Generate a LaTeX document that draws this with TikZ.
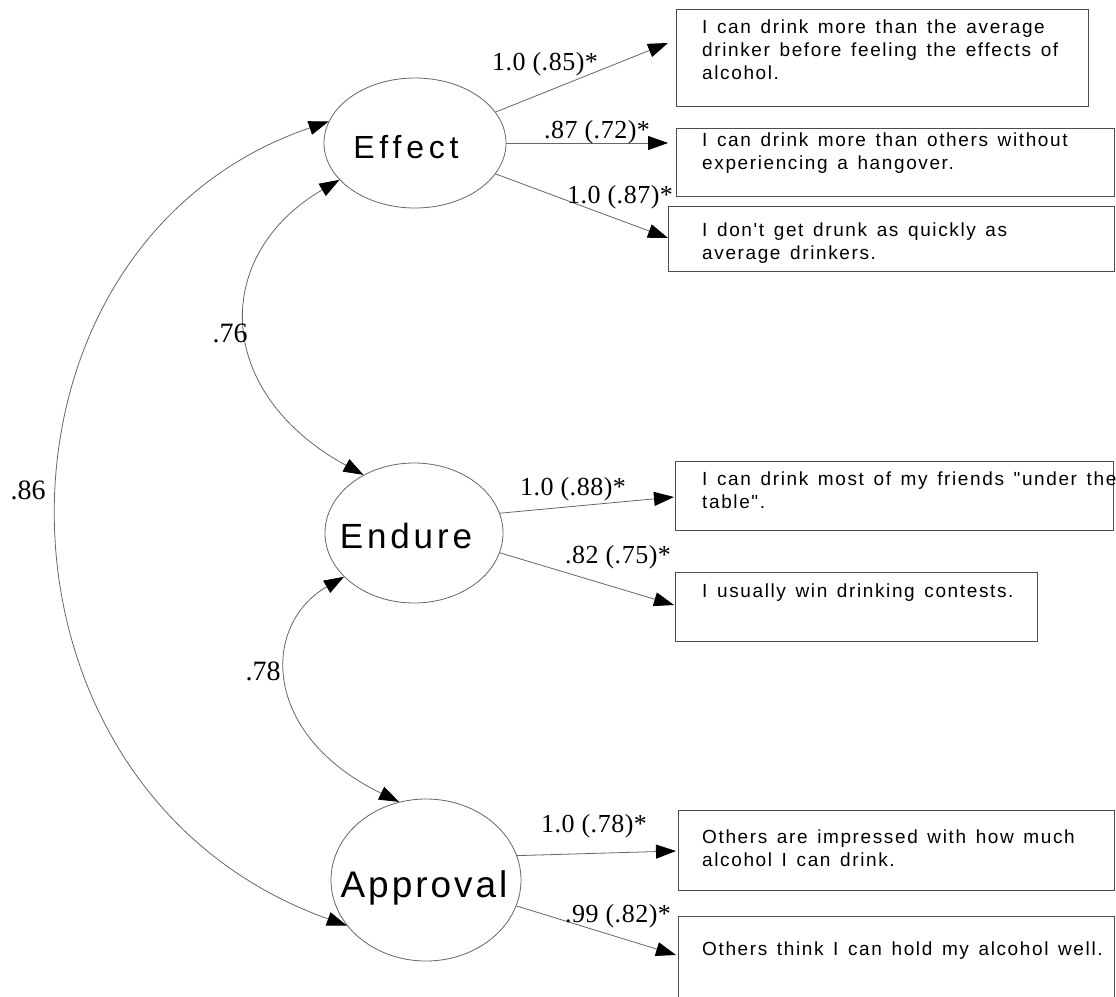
\documentclass[tikz,border=0pt]{standalone}
\usepackage{fontspec}
\setmainfont{Liberation Serif}
\newfontfamily\boxfont[LetterSpace=8.5,WordSpace=1.4]{Liberation Sans}
\newfontfamily\effectfont[LetterSpace=15]{Liberation Sans}
\newfontfamily\endurefont[LetterSpace=11]{Liberation Sans}
\newfontfamily\approvalfont[LetterSpace=8]{Liberation Sans}
\newfontfamily\coeffont[LetterSpace=2]{Liberation Serif}
\usetikzlibrary{arrows.meta,shapes.geometric}
\newcommand{\itemlines}[1]{\begin{tabular}[t]{@{}l@{}}#1\end{tabular}}
\tikzset{
  lat/.style={ellipse, draw=black!60, line width=0.8pt, inner sep=0pt},
  lattxt/.style={inner sep=0pt, anchor=base},
  itembox/.style={rectangle, draw=black!70, line width=0.9pt, inner sep=0pt, anchor=north west},
  itemtxt/.style={anchor=base west, inner sep=0pt, font=\boxfont\fontsize{19}{23}\selectfont},
  coef/.style={anchor=base, inner sep=0pt, font=\coeffont\fontsize{26}{28}\selectfont},
  covlab/.style={anchor=base, inner sep=0pt, font=\fontsize{28}{30}\selectfont},
  load/.style={draw=black!60, line width=0.8pt, -{Triangle[length=20pt,width=14pt,color=black]}},
  covarc/.style={draw=black!60, line width=0.8pt, {Triangle[length=20pt,width=14pt,color=black]}-{Triangle[length=20pt,width=14pt,color=black]}},
}
\begin{document}
\begin{tikzpicture}[x=1pt,y=-1pt]
\fill[white] (0,0) rectangle (1116,996);
\clip (0,0) rectangle (1116,996);

% latent variables
\node[lat, minimum width=182pt, minimum height=130pt] (effect) at (415,143) {};
\node[lat, minimum width=178pt, minimum height=140pt] (endure) at (414,533) {};
\node[lat, minimum width=190pt, minimum height=162pt] (approval) at (426,880) {};
\node[lattxt, font=\effectfont\fontsize{32}{36}\selectfont] (effecttxt) at (406,158) {Effect};
\node[lattxt, font=\endurefont\fontsize{35}{40}\selectfont] (enduretxt) at (406,548) {Endure};
\node[lattxt, font=\approvalfont\fontsize{37}{42}\selectfont] (approvaltxt) at (424,897) {Approval};

% item boxes
\node[itembox, minimum width=412pt, minimum height=97pt] (b1) at (676,9) {};
\node[itembox, minimum width=438pt, minimum height=68pt] (b2) at (676,128) {};
\node[itembox, minimum width=446pt, minimum height=65pt] (b3) at (668,206) {};
\node[itembox, minimum width=438pt, minimum height=69pt] (b4) at (675,461) {};
\node[itembox, minimum width=362pt, minimum height=69pt] (b5) at (675,572) {};
\node[itembox, minimum width=436pt, minimum height=80pt] (b6) at (678,810) {};
\node[itembox, minimum width=436pt, minimum height=130pt] (b7) at (678,916) {};

% item texts
\node[itemtxt] (t1) at (702,33) {\itemlines{I can drink more than the average\\drinker before feeling the effects of\\alcohol.}};
\node[itemtxt] (t2) at (702,146) {\itemlines{I can drink more than others without\\experiencing a hangover.}};
\node[itemtxt] (t3) at (702,236) {\itemlines{I don't get drunk as quickly as\\average drinkers.}};
\node[itemtxt] (t4) at (702,485) {\itemlines{I can drink most of my friends "under the\\table".}};
\node[itemtxt] (t5) at (702,597) {\itemlines{I usually win drinking contests.}};
\node[itemtxt] (t6) at (702,843) {\itemlines{Others are impressed with how much\\alcohol I can drink.}};
\node[itemtxt] (t7) at (702,955) {\itemlines{Others think I can hold my alcohol well.}};

% arrow end points
\coordinate (e1) at (668,43);
\coordinate (e2) at (668,143);
\coordinate (e3) at (668,238);
\coordinate (e4) at (674,497);
\coordinate (e5) at (674,605);
\coordinate (e6) at (676,851);
\coordinate (e7) at (676,955);

% loadings
\draw[load] (effect.21) -- (e1);
\draw[load] (effect.0) -- (e2);
\draw[load] (effect.339) -- (e3);
\draw[load] (endure.13) -- (e4);
\draw[load] (endure.347) -- (e5);
\draw[load] (approval.15) -- (e6);
\draw[load] (approval.344) -- (e7);

% loading labels
\node[coef] (l1) at (545,70) {1.0 (.85)*};
\node[coef] (l2) at (597,138) {.87 (.72)*};
\node[coef] (l3) at (620,203) {1.0 (.87)*};
\node[coef] (l4) at (573,495) {1.0 (.88)*};
\node[coef] (l5) at (618,563) {.82 (.75)*};
\node[coef] (l6) at (594,832) {1.0 (.78)*};
\node[coef] (l7) at (618,922) {.99 (.82)*};

% covariances
\draw[covarc] (effect.166) .. controls (-34,245) and (-34,790) .. (approval.210);
\draw[covarc] (effect.206) .. controls (212,254) and (212,392) .. (endure.131);
\draw[covarc] (endure.212) .. controls (261,625) and (261,735) .. (approval.109);

\node[covlab] (c1) at (28,499) {.86};
\node[covlab] (c2) at (230,342) {.76};
\node[covlab] (c3) at (263,680) {.78};
\end{tikzpicture}
\end{document}
